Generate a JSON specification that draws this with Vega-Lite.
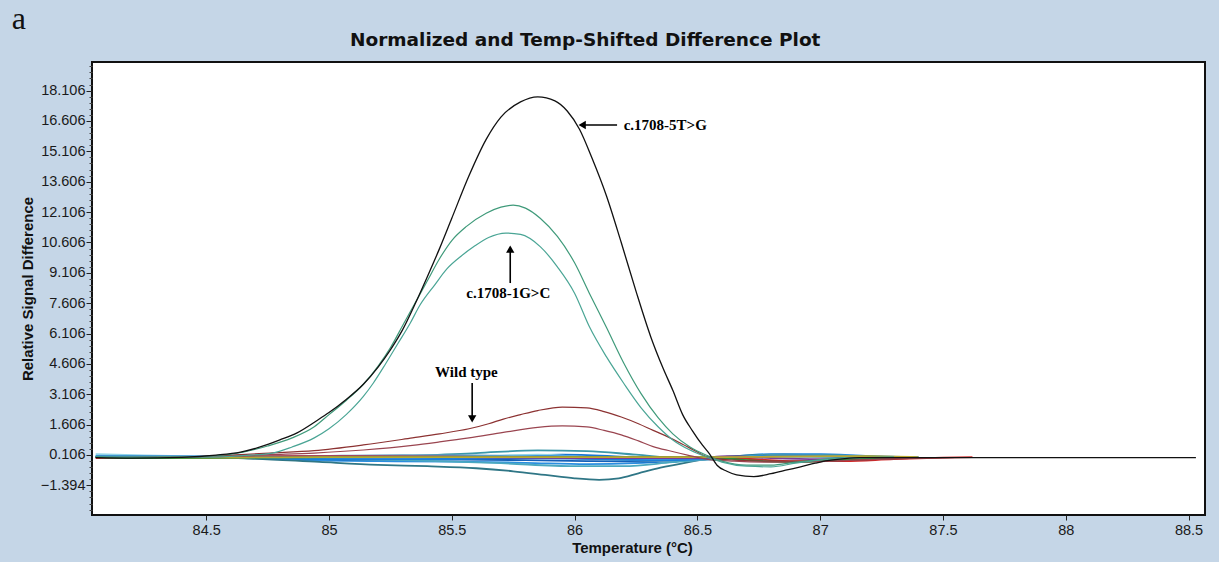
{
  "$schema": "https://vega.github.io/schema/vega-lite/v6.json",
  "width": 1113,
  "height": 453,
  "autosize": {"type": "none"},
  "padding": {"left": 92, "top": 62, "right": 14, "bottom": 47},
  "background": "#c5d6e7",
  "config": {
    "view": {"stroke": "#111111", "strokeWidth": 2, "fill": "white"}
  },
  "title": {
    "text": "Normalized and Temp-Shifted Difference Plot",
    "anchor": "start",
    "frame": "group",
    "dx": 258,
    "dy": 61,
    "offset": 0,
    "baseline": "alphabetic",
    "font": "DejaVu Sans",
    "fontSize": 18.5,
    "fontWeight": "bold",
    "color": "#111111"
  },
  "datasets": {
    "cluster": [
      {"s":"b1","t":84.05,"v":0.02},{"s":"b1","t":84.5,"v":0.0},{"s":"b1","t":84.9,"v":-0.08},{"s":"b1","t":85.2,"v":-0.12},{"s":"b1","t":85.5,"v":-0.08},{"s":"b1","t":85.75,"v":0.05},{"s":"b1","t":85.95,"v":0.12},{"s":"b1","t":86.15,"v":0.05},{"s":"b1","t":86.35,"v":-0.08},{"s":"b1","t":86.55,"v":-0.1},{"s":"b1","t":86.65,"v":0.0},{"s":"b1","t":86.8,"v":0.12},{"s":"b1","t":87.0,"v":0.12},{"s":"b1","t":87.2,"v":0.04},{"s":"b1","t":87.4,"v":0.0},
      {"s":"b2","t":84.05,"v":0.0},{"s":"b2","t":84.6,"v":-0.02},{"s":"b2","t":84.9,"v":-0.15},{"s":"b2","t":85.2,"v":-0.2},{"s":"b2","t":85.5,"v":-0.22},{"s":"b2","t":85.8,"v":-0.28},{"s":"b2","t":86.05,"v":-0.35},{"s":"b2","t":86.25,"v":-0.3},{"s":"b2","t":86.45,"v":-0.15},{"s":"b2","t":86.6,"v":-0.02},{"s":"b2","t":86.8,"v":0.15},{"s":"b2","t":87.0,"v":0.15},{"s":"b2","t":87.2,"v":0.05},{"s":"b2","t":87.4,"v":0.0},
      {"s":"b3","t":84.05,"v":0.15},{"s":"b3","t":84.25,"v":0.08},{"s":"b3","t":84.6,"v":0.0},{"s":"b3","t":84.9,"v":-0.05},{"s":"b3","t":85.3,"v":-0.05},{"s":"b3","t":85.6,"v":0.05},{"s":"b3","t":85.85,"v":0.12},{"s":"b3","t":86.05,"v":0.0},{"s":"b3","t":86.3,"v":-0.12},{"s":"b3","t":86.5,"v":-0.12},{"s":"b3","t":86.65,"v":-0.02},{"s":"b3","t":86.85,"v":0.08},{"s":"b3","t":87.05,"v":0.02},{"s":"b3","t":87.3,"v":0.0},
      {"s":"b4","t":84.05,"v":0.05},{"s":"b4","t":84.7,"v":0.0},{"s":"b4","t":85.0,"v":0.0},{"s":"b4","t":85.3,"v":0.05},{"s":"b4","t":85.6,"v":0.2},{"s":"b4","t":85.85,"v":0.33},{"s":"b4","t":86.05,"v":0.3},{"s":"b4","t":86.25,"v":0.12},{"s":"b4","t":86.45,"v":-0.05},{"s":"b4","t":86.6,"v":-0.05},{"s":"b4","t":86.85,"v":0.1},{"s":"b4","t":87.1,"v":0.06},{"s":"b4","t":87.3,"v":0.0},
      {"s":"b5","t":84.05,"v":0.0},{"s":"b5","t":84.8,"v":-0.05},{"s":"b5","t":85.1,"v":-0.12},{"s":"b5","t":85.5,"v":-0.12},{"s":"b5","t":85.8,"v":-0.15},{"s":"b5","t":86.05,"v":-0.2},{"s":"b5","t":86.3,"v":-0.22},{"s":"b5","t":86.5,"v":-0.1},{"s":"b5","t":86.7,"v":0.05},{"s":"b5","t":86.9,"v":0.1},{"s":"b5","t":87.1,"v":0.04},{"s":"b5","t":87.3,"v":0.0},
      {"s":"b6","t":84.05,"v":0.0},{"s":"b6","t":84.5,"v":0.0},{"s":"b6","t":84.7,"v":-0.08},{"s":"b6","t":84.96,"v":-0.24},{"s":"b6","t":85.2,"v":-0.38},{"s":"b6","t":85.4,"v":-0.45},{"s":"b6","t":85.6,"v":-0.55},{"s":"b6","t":85.75,"v":-0.7},{"s":"b6","t":85.88,"v":-0.88},{"s":"b6","t":86.0,"v":-1.05},{"s":"b6","t":86.1,"v":-1.12},{"s":"b6","t":86.18,"v":-1.05},{"s":"b6","t":86.26,"v":-0.8},{"s":"b6","t":86.35,"v":-0.52},{"s":"b6","t":86.45,"v":-0.28},{"s":"b6","t":86.55,"v":-0.08},{"s":"b6","t":86.65,"v":0.05},{"s":"b6","t":86.85,"v":0.12},{"s":"b6","t":87.05,"v":0.08},{"s":"b6","t":87.25,"v":0.0},
      {"s":"b7","t":84.05,"v":0.0},{"s":"b7","t":84.9,"v":0.05},{"s":"b7","t":85.3,"v":0.1},{"s":"b7","t":85.6,"v":0.08},{"s":"b7","t":85.9,"v":-0.02},{"s":"b7","t":86.15,"v":-0.12},{"s":"b7","t":86.4,"v":-0.2},{"s":"b7","t":86.6,"v":-0.1},{"s":"b7","t":86.8,"v":0.0},{"s":"b7","t":87.0,"v":0.05},{"s":"b7","t":87.3,"v":0.0},
      {"s":"b8","t":84.05,"v":0.0},{"s":"b8","t":84.8,"v":-0.05},{"s":"b8","t":85.3,"v":-0.15},{"s":"b8","t":85.7,"v":-0.3},{"s":"b8","t":86.0,"v":-0.45},{"s":"b8","t":86.2,"v":-0.45},{"s":"b8","t":86.4,"v":-0.25},{"s":"b8","t":86.6,"v":-0.05},{"s":"b8","t":86.8,"v":0.1},{"s":"b8","t":87.0,"v":0.1},{"s":"b8","t":87.2,"v":0.0},
      {"s":"b9","t":84.6,"v":0.0},{"s":"b9","t":85.0,"v":-0.1},{"s":"b9","t":85.4,"v":-0.1},{"s":"b9","t":85.8,"v":-0.05},{"s":"b9","t":86.1,"v":-0.1},{"s":"b9","t":86.4,"v":-0.15},{"s":"b9","t":86.6,"v":-0.05},{"s":"b9","t":86.8,"v":0.05},{"s":"b9","t":87.1,"v":0.0},
      {"s":"b10","t":84.05,"v":0.05},{"s":"b10","t":84.8,"v":0.02},{"s":"b10","t":85.2,"v":0.0},{"s":"b10","t":85.6,"v":-0.02},{"s":"b10","t":85.9,"v":0.05},{"s":"b10","t":86.2,"v":-0.02},{"s":"b10","t":86.5,"v":-0.08},{"s":"b10","t":86.7,"v":0.0},{"s":"b10","t":86.9,"v":0.08},{"s":"b10","t":87.2,"v":0.0},
      {"s":"r","t":84.05,"v":-0.05},{"s":"r","t":84.35,"v":-0.02},{"s":"r","t":84.6,"v":0.03},{"s":"r","t":85.0,"v":0.05},{"s":"r","t":85.5,"v":0.02},{"s":"r","t":86.0,"v":0.0},{"s":"r","t":86.5,"v":0.0},{"s":"r","t":86.7,"v":-0.08},{"s":"r","t":86.9,"v":-0.2},{"s":"r","t":87.1,"v":-0.2},{"s":"r","t":87.3,"v":-0.1},{"s":"r","t":87.5,"v":-0.03},{"s":"r","t":87.62,"v":0.0},
      {"s":"p","t":84.5,"v":0.0},{"s":"p","t":85.0,"v":0.02},{"s":"p","t":85.5,"v":0.0},{"s":"p","t":86.0,"v":-0.05},{"s":"p","t":86.5,"v":-0.05},{"s":"p","t":86.62,"v":0.05},{"s":"p","t":86.8,"v":-0.05},{"s":"p","t":87.0,"v":-0.1},{"s":"p","t":87.2,"v":-0.05},{"s":"p","t":87.35,"v":0.0},
      {"s":"gr","t":84.05,"v":0.0},{"s":"gr","t":84.2,"v":-0.05},{"s":"gr","t":84.5,"v":-0.05},{"s":"gr","t":85.0,"v":0.0},{"s":"gr","t":86.0,"v":0.0},{"s":"gr","t":86.55,"v":0.0},{"s":"gr","t":86.7,"v":-0.15},{"s":"gr","t":86.9,"v":-0.25},{"s":"gr","t":87.1,"v":-0.12},{"s":"gr","t":87.3,"v":0.0},
      {"s":"y","t":84.3,"v":0.0},{"s":"y","t":84.6,"v":-0.02},{"s":"y","t":85.0,"v":0.0},{"s":"y","t":86.0,"v":0.0},{"s":"y","t":86.6,"v":0.0},{"s":"y","t":86.9,"v":0.03},{"s":"y","t":87.2,"v":0.05},{"s":"y","t":87.4,"v":0.0}
    ],
    "peaks": [
      {"s":"m1","t":84.05,"v":-0.02},{"s":"m1","t":84.4,"v":0.0},{"s":"m1","t":84.6,"v":0.1},{"s":"m1","t":84.76,"v":0.2},{"s":"m1","t":84.94,"v":0.32},{"s":"m1","t":85.14,"v":0.6},{"s":"m1","t":85.34,"v":0.95},{"s":"m1","t":85.45,"v":1.15},{"s":"m1","t":85.57,"v":1.4},{"s":"m1","t":85.65,"v":1.65},{"s":"m1","t":85.71,"v":1.88},{"s":"m1","t":85.78,"v":2.1},{"s":"m1","t":85.85,"v":2.3},{"s":"m1","t":85.95,"v":2.47},{"s":"m1","t":86.05,"v":2.43},{"s":"m1","t":86.12,"v":2.25},{"s":"m1","t":86.19,"v":1.98},{"s":"m1","t":86.26,"v":1.65},{"s":"m1","t":86.32,"v":1.32},{"s":"m1","t":86.38,"v":1.0},{"s":"m1","t":86.43,"v":0.7},{"s":"m1","t":86.48,"v":0.38},{"s":"m1","t":86.52,"v":0.12},{"s":"m1","t":86.56,"v":-0.05},{"s":"m1","t":86.65,"v":-0.15},{"s":"m1","t":86.8,"v":-0.2},{"s":"m1","t":87.0,"v":-0.2},{"s":"m1","t":87.2,"v":-0.12},{"s":"m1","t":87.4,"v":-0.05},{"s":"m1","t":87.55,"v":-0.02},
      {"s":"m2","t":84.05,"v":-0.02},{"s":"m2","t":84.5,"v":0.0},{"s":"m2","t":84.76,"v":0.12},{"s":"m2","t":84.94,"v":0.2},{"s":"m2","t":85.14,"v":0.35},{"s":"m2","t":85.34,"v":0.58},{"s":"m2","t":85.45,"v":0.75},{"s":"m2","t":85.57,"v":0.95},{"s":"m2","t":85.71,"v":1.22},{"s":"m2","t":85.85,"v":1.47},{"s":"m2","t":85.95,"v":1.54},{"s":"m2","t":86.05,"v":1.49},{"s":"m2","t":86.12,"v":1.32},{"s":"m2","t":86.19,"v":1.1},{"s":"m2","t":86.26,"v":0.8},{"s":"m2","t":86.32,"v":0.52},{"s":"m2","t":86.39,"v":0.3},{"s":"m2","t":86.46,"v":0.1},{"s":"m2","t":86.55,"v":-0.12},{"s":"m2","t":86.65,"v":-0.2},{"s":"m2","t":86.8,"v":-0.25},{"s":"m2","t":87.0,"v":-0.22},{"s":"m2","t":87.2,"v":-0.12},{"s":"m2","t":87.4,"v":-0.05},{"s":"m2","t":87.55,"v":-0.02},
      {"s":"g1","t":84.05,"v":0.0},{"s":"g1","t":84.4,"v":0.0},{"s":"g1","t":84.55,"v":0.08},{"s":"g1","t":84.65,"v":0.25},{"s":"g1","t":84.75,"v":0.55},{"s":"g1","t":84.85,"v":0.95},{"s":"g1","t":84.94,"v":1.5},{"s":"g1","t":85.0,"v":2.1},{"s":"g1","t":85.07,"v":2.8},{"s":"g1","t":85.14,"v":3.6},{"s":"g1","t":85.2,"v":4.5},{"s":"g1","t":85.25,"v":5.4},{"s":"g1","t":85.3,"v":6.5},{"s":"g1","t":85.35,"v":7.6},{"s":"g1","t":85.4,"v":8.7},{"s":"g1","t":85.45,"v":9.8},{"s":"g1","t":85.5,"v":10.7},{"s":"g1","t":85.56,"v":11.4},{"s":"g1","t":85.64,"v":12.05},{"s":"g1","t":85.7,"v":12.35},{"s":"g1","t":85.75,"v":12.45},{"s":"g1","t":85.8,"v":12.3},{"s":"g1","t":85.86,"v":11.8},{"s":"g1","t":85.93,"v":10.9},{"s":"g1","t":86.0,"v":9.6},{"s":"g1","t":86.06,"v":8.1},{"s":"g1","t":86.13,"v":6.4},{"s":"g1","t":86.2,"v":4.65},{"s":"g1","t":86.27,"v":3.15},{"s":"g1","t":86.34,"v":1.95},{"s":"g1","t":86.4,"v":1.15},{"s":"g1","t":86.47,"v":0.5},{"s":"g1","t":86.54,"v":0.08},{"s":"g1","t":86.6,"v":-0.2},{"s":"g1","t":86.7,"v":-0.4},{"s":"g1","t":86.8,"v":-0.4},{"s":"g1","t":86.9,"v":-0.25},{"s":"g1","t":87.0,"v":-0.12},{"s":"g1","t":87.1,"v":-0.04},{"s":"g1","t":87.3,"v":0.0},
      {"s":"g2","t":84.05,"v":0.0},{"s":"g2","t":84.5,"v":0.0},{"s":"g2","t":84.65,"v":0.08},{"s":"g2","t":84.77,"v":0.2},{"s":"g2","t":84.85,"v":0.5},{"s":"g2","t":84.94,"v":0.95},{"s":"g2","t":85.0,"v":1.4},{"s":"g2","t":85.07,"v":2.1},{"s":"g2","t":85.14,"v":3.0},{"s":"g2","t":85.18,"v":3.65},{"s":"g2","t":85.23,"v":4.6},{"s":"g2","t":85.28,"v":5.6},{"s":"g2","t":85.33,"v":6.6},{"s":"g2","t":85.37,"v":7.5},{"s":"g2","t":85.43,"v":8.5},{"s":"g2","t":85.48,"v":9.3},{"s":"g2","t":85.54,"v":9.95},{"s":"g2","t":85.59,"v":10.4},{"s":"g2","t":85.65,"v":10.85},{"s":"g2","t":85.72,"v":11.07},{"s":"g2","t":85.78,"v":11.0},{"s":"g2","t":85.86,"v":10.4},{"s":"g2","t":85.93,"v":9.4},{"s":"g2","t":86.0,"v":8.1},{"s":"g2","t":86.06,"v":6.45},{"s":"g2","t":86.13,"v":4.95},{"s":"g2","t":86.2,"v":3.65},{"s":"g2","t":86.27,"v":2.45},{"s":"g2","t":86.34,"v":1.5},{"s":"g2","t":86.4,"v":0.85},{"s":"g2","t":86.47,"v":0.35},{"s":"g2","t":86.54,"v":0.0},{"s":"g2","t":86.6,"v":-0.25},{"s":"g2","t":86.7,"v":-0.45},{"s":"g2","t":86.8,"v":-0.48},{"s":"g2","t":86.9,"v":-0.3},{"s":"g2","t":87.0,"v":-0.15},{"s":"g2","t":87.1,"v":-0.05},{"s":"g2","t":87.3,"v":0.0}
    ],
    "black": [
      {"s":"k","t":84.05,"v":-0.03},{"s":"k","t":84.2,"v":-0.05},{"s":"k","t":84.4,"v":-0.01},{"s":"k","t":84.54,"v":0.1},{"s":"k","t":84.64,"v":0.25},{"s":"k","t":84.72,"v":0.5},{"s":"k","t":84.8,"v":0.85},{"s":"k","t":84.87,"v":1.2},{"s":"k","t":84.95,"v":1.8},{"s":"k","t":85.0,"v":2.2},{"s":"k","t":85.07,"v":2.85},{"s":"k","t":85.14,"v":3.6},{"s":"k","t":85.2,"v":4.45},{"s":"k","t":85.25,"v":5.3},{"s":"k","t":85.3,"v":6.3},{"s":"k","t":85.35,"v":7.55},{"s":"k","t":85.4,"v":8.9},{"s":"k","t":85.45,"v":10.3},{"s":"k","t":85.5,"v":11.8},{"s":"k","t":85.57,"v":13.9},{"s":"k","t":85.64,"v":15.7},{"s":"k","t":85.7,"v":16.8},{"s":"k","t":85.78,"v":17.55},{"s":"k","t":85.85,"v":17.8},{"s":"k","t":85.92,"v":17.6},{"s":"k","t":85.97,"v":17.1},{"s":"k","t":86.02,"v":16.2},{"s":"k","t":86.07,"v":14.8},{"s":"k","t":86.13,"v":12.9},{"s":"k","t":86.19,"v":10.6},{"s":"k","t":86.25,"v":8.2},{"s":"k","t":86.31,"v":5.95},{"s":"k","t":86.36,"v":4.4},{"s":"k","t":86.4,"v":3.3},{"s":"k","t":86.44,"v":2.1},{"s":"k","t":86.48,"v":1.3},{"s":"k","t":86.52,"v":0.6},{"s":"k","t":86.55,"v":0.15},{"s":"k","t":86.58,"v":-0.4},{"s":"k","t":86.62,"v":-0.7},{"s":"k","t":86.66,"v":-0.88},{"s":"k","t":86.73,"v":-0.96},{"s":"k","t":86.8,"v":-0.82},{"s":"k","t":86.87,"v":-0.62},{"s":"k","t":86.92,"v":-0.48},{"s":"k","t":86.98,"v":-0.3},{"s":"k","t":87.03,"v":-0.17},{"s":"k","t":87.1,"v":-0.07},{"s":"k","t":87.16,"v":-0.03},{"s":"k","t":87.3,"v":-0.03},{"s":"k","t":88.53,"v":-0.03}
    ],
    "notes": [
      {"t":86.2,"v":16.41,"label":"c.1708-5T>G"},
      {"t":85.559,"v":8.11,"label":"c.1708-1G>C"},
      {"t":85.432,"v":4.21,"label":"Wild type"}
    ],
    "arrows": [
      {"t":86.173,"v":16.41,"t2":86.03,"v2":16.41},
      {"t":85.738,"v":8.6,"t2":85.738,"v2":10.2},
      {"t":85.583,"v":3.66,"t2":85.583,"v2":1.95}
    ],
    "heads": [
      {"t":86.031,"v":16.41,"dir":"left"},
      {"t":85.738,"v":10.28,"dir":"up"},
      {"t":85.583,"v":1.885,"dir":"down"}
    ],
    "panel": [
      {"t":83.737,"v":21.15,"label":"a"}
    ]
  },
  "encoding": {
    "x": {
      "field": "t",
      "type": "quantitative",
      "scale": {"domain": [84.035, 88.567], "nice": false, "zero": false},
      "axis": {
        "values": [84.5, 85, 85.5, 86, 86.5, 87, 87.5, 88, 88.5],
        "format": "~g",
        "grid": false,
        "domain": false,
        "tickColor": "#222222",
        "tickSize": 5,
        "labelFont": "Liberation Sans",
        "labelFontSize": 14.5,
        "labelColor": "#1a1a1a",
        "labelPadding": 3,
        "title": "Temperature (°C)",
        "titleFont": "Liberation Sans",
        "titleFontSize": 15,
        "titleFontWeight": "bold",
        "titleColor": "#111111",
        "titleX": 540,
        "titleY": 37,
        "titleAlign": "center",
        "titleBaseline": "alphabetic"
      }
    },
    "y": {
      "field": "v",
      "type": "quantitative",
      "scale": {"domain": [-2.86, 19.52], "nice": false, "zero": false},
      "axis": null
    }
  },
  "layer": [
    {
      "data": {"name": "cluster"},
      "mark": {"type": "line", "strokeWidth": 1.8, "interpolate": "monotone"},
      "encoding": {
        "y": {
          "field": "v",
          "type": "quantitative",
          "scale": {"domain": [-2.86, 19.52], "nice": false, "zero": false},
          "axis": {
            "orient": "left",
            "values": [-1.394, 0.106, 1.606, 3.106, 4.606, 6.106, 7.606, 9.106, 10.606, 12.106, 13.606, 15.106, 16.606, 18.106],
            "format": ".3f",
            "grid": false,
            "domain": false,
            "tickColor": "#222222",
            "tickSize": 6,
            "labelFont": "Liberation Sans",
            "labelFontSize": 14.5,
            "labelColor": "#1a1a1a",
            "labelPadding": 1,
            "title": "Relative Signal Difference",
            "titleFont": "Liberation Sans",
            "titleFontSize": 15,
            "titleFontWeight": "bold",
            "titleColor": "#111111",
            "titleX": -65,
            "titleY": 226.5,
            "titleAngle": -90,
            "titleAlign": "center",
            "titleBaseline": "middle"
          }
        },
        "color": {
          "field": "s",
          "type": "nominal",
          "legend": null,
          "scale": {
            "domain": ["b1","b2","b3","b4","b5","b6","b7","b8","b9","b10","r","p","gr","y","m1","m2","g1","g2","k"],
            "range": ["#1976d2","#2a8ee0","#8fd4e8","#3c98aa","#1560b8","#2f7686","#5b9cc4","#4aa8c0","#1a7fd9","#2f86d4","#d02828","#7a3c96","#2e8b3e","#b8a832","#8c3232","#9a4550","#3f9a7a","#4aa595","#111111"]
          }
        }
      }
    },
    {
      "data": {"name": "peaks"},
      "mark": {"type": "line", "strokeWidth": 1.2, "interpolate": "monotone"},
      "encoding": {
        "y": {
          "field": "v",
          "type": "quantitative",
          "scale": {"domain": [-2.86, 19.52], "nice": false, "zero": false},
          "axis": {
            "orient": "left",
            "values": [-2.594,-2.294,-1.994,-1.694,-1.094,-0.794,-0.494,-0.194,0.406,0.706,1.006,1.306,1.906,2.206,2.506,2.806,3.406,3.706,4.006,4.306,4.906,5.206,5.506,5.806,6.406,6.706,7.006,7.306,7.906,8.206,8.506,8.806,9.406,9.706,10.006,10.306,10.906,11.206,11.506,11.806,12.406,12.706,13.006,13.306,13.906,14.206,14.506,14.806,15.406,15.706,16.006,16.306,16.906,17.206,17.506,17.806,18.406,18.706,19.006,19.306],
            "labels": false,
            "grid": false,
            "domain": false,
            "tickColor": "#444444",
            "tickSize": 3,
            "title": null
          }
        },
        "color": {"field": "s", "type": "nominal", "legend": null}
      }
    },
    {
      "data": {"name": "black"},
      "mark": {"type": "line", "strokeWidth": 1.3, "interpolate": "monotone"},
      "encoding": {
        "color": {"field": "s", "type": "nominal", "legend": null}
      }
    },
    {
      "data": {"name": "arrows"},
      "mark": {"type": "rule", "color": "#000000", "strokeWidth": 1.6},
      "encoding": {
        "x2": {"field": "t2"},
        "y2": {"field": "v2"}
      }
    },
    {
      "data": {"name": "heads"},
      "mark": {"type": "point", "filled": true, "color": "#000000", "opacity": 1, "size": 70},
      "encoding": {
        "shape": {
          "field": "dir",
          "type": "nominal",
          "legend": null,
          "scale": {"domain": ["left","up","down"], "range": ["triangle-left","triangle-up","triangle-down"]}
        }
      }
    },
    {
      "data": {"name": "notes"},
      "mark": {"type": "text", "align": "left", "baseline": "middle", "font": "Liberation Serif", "fontSize": 15, "fontWeight": "bold", "color": "#000000"},
      "encoding": {
        "text": {"field": "label"}
      }
    },
    {
      "data": {"name": "panel"},
      "mark": {"type": "text", "align": "center", "baseline": "alphabetic", "font": "Liberation Serif", "fontSize": 32, "color": "#111111"},
      "encoding": {
        "text": {"field": "label"}
      }
    }
  ],
  "resolve": {"axis": {"y": "independent"}}
}
